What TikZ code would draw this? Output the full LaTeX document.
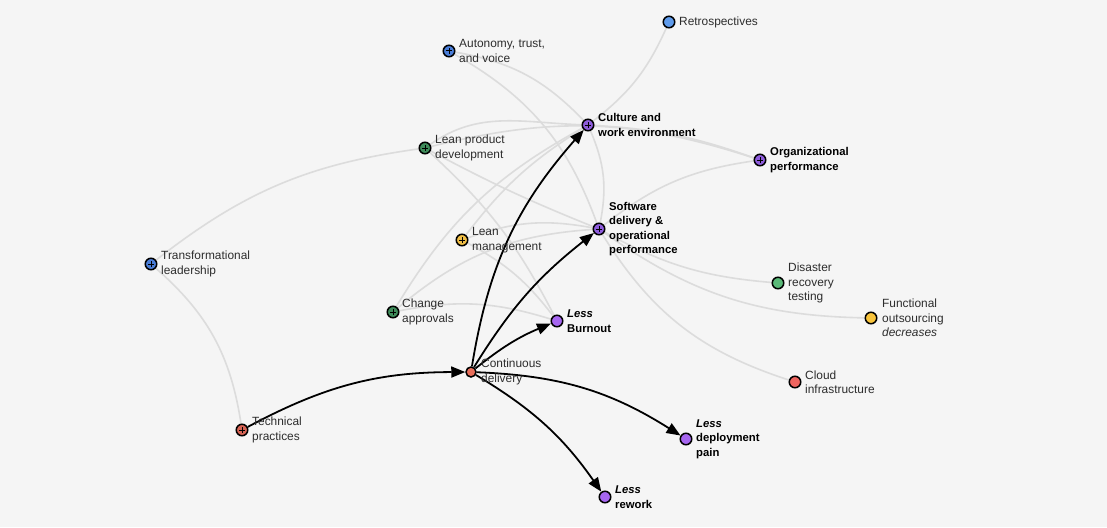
\documentclass[tikz,border=0pt]{standalone}
\usepackage{fontspec}
\setmainfont{Liberation Sans}
\usetikzlibrary{arrows.meta}
\pgfdeclarelayer{bg}
\pgfdeclarelayer{edges}
\pgfsetlayers{bg,edges,main}
\definecolor{bgc}{RGB}{245,245,245}
\definecolor{edgegray}{RGB}{220,220,220}
\definecolor{txt}{RGB}{45,45,45}
\definecolor{purA}{RGB}{142,92,220}
\definecolor{purB}{RGB}{166,102,240}
\definecolor{bluA}{RGB}{95,155,235}
\definecolor{bluB}{RGB}{74,125,215}
\definecolor{grnA}{RGB}{62,140,90}
\definecolor{grnB}{RGB}{90,185,120}
\definecolor{yelA}{RGB}{240,190,70}
\definecolor{yelB}{RGB}{248,196,60}
\definecolor{redA}{RGB}{232,110,90}
\definecolor{redB}{RGB}{238,100,95}
\definecolor{redC}{RGB}{215,100,85}
\tikzset{
  dot/.style={circle, draw=black, line width=1.5pt, minimum size=11.5pt, inner sep=0pt},
  withplus/.style={path picture={
    \draw[line width=1pt] ([xshift=-3.2pt]path picture bounding box.center) -- ([xshift=3.2pt]path picture bounding box.center)
      ([yshift=-3.2pt]path picture bounding box.center) -- ([yshift=3.2pt]path picture bounding box.center);}},
  lab/.style={anchor=west, inner sep=0pt, align=left, text=txt, font=\fontsize{11.9}{14.5}\selectfont},
  blab/.style={anchor=west, inner sep=0pt, align=left, text=black, font=\fontsize{11.3}{14.5}\selectfont\bfseries},
  gedge/.style={draw=edgegray, line width=1.6pt},
  bedge/.style={draw=black, line width=1.8pt, -{Triangle[length=14pt,width=11pt]}},
}
\begin{document}
\begin{tikzpicture}[x=1pt,y=1pt]
\begin{pgfonlayer}{bg}
\fill[bgc] (0,0) rectangle (1107,-527);
\end{pgfonlayer}
\useasboundingbox (0,0) rectangle (1107,-527);

% nodes
\node[dot, fill=bluA] (retro) at (669,-22) {};
\node[dot, fill=bluB, withplus] (aut) at (449,-51) {};
\node[dot, fill=purA, withplus] (cul) at (588,-125) {};
\node[dot, fill=grnA, withplus] (lpd) at (425,-148) {};
\node[dot, fill=purA, withplus] (org) at (760,-160) {};
\node[dot, fill=purA, withplus] (sdo) at (599,-229) {};
\node[dot, fill=yelA, withplus] (lm) at (462,-240) {};
\node[dot, fill=bluB, withplus] (tl) at (151,-264) {};
\node[dot, fill=grnB] (drt) at (778,-283) {};
\node[dot, fill=grnA, withplus] (ca) at (393,-312) {};
\node[dot, fill=yelB] (fo) at (871,-318) {};
\node[dot, fill=purB] (bur) at (557,-321) {};
\node[dot, fill=redA, minimum size=10pt] (cd) at (471,-372) {};
\node[dot, fill=redB] (cloud) at (795,-382) {};
\node[dot, fill=redC, withplus] (tp) at (242,-430) {};
\node[dot, fill=purB] (ldp) at (686,-439) {};
\node[dot, fill=purB] (rew) at (605,-497) {};

% labels
\node[lab] (retroL) at ([xshift=10pt]retro.center) {Retrospectives};
\node[lab] (autL) at ([xshift=10pt]aut.center) {Autonomy, trust,\\and voice};
\node[blab] (culL) at ([xshift=10pt]cul.center) {Culture and\\work environment};
\node[lab] (lpdL) at ([xshift=10pt]lpd.center) {Lean product\\development};
\node[blab] (orgL) at ([xshift=10pt]org.center) {Organizational\\performance};
\node[blab] (sdoL) at ([xshift=10pt]sdo.center) {Software\\delivery \&\\operational\\performance};
\node[lab] (lmL) at ([xshift=10pt]lm.center) {Lean\\management};
\node[lab] (tlL) at ([xshift=10pt]tl.center) {Transformational\\leadership};
\node[lab] (drtL) at ([xshift=10pt]drt.center) {Disaster\\recovery\\testing};
\node[lab] (caL) at ([xshift=9pt]ca.center) {Change\\approvals};
\node[lab] (foL) at ([xshift=11pt]fo.center) {Functional\\outsourcing\\\textit{decreases}};
\node[blab] (burL) at ([xshift=10pt]bur.center) {\textit{Less}\\Burnout};
\node[lab] (cdL) at ([xshift=10pt]cd.center) {Continuous\\delivery};
\node[lab] (cloudL) at ([xshift=10pt]cloud.center) {Cloud\\infrastructure};
\node[lab] (tpL) at ([xshift=10pt]tp.center) {Technical\\practices};
\node[blab] (ldpL) at ([xshift=10pt]ldp.center) {\textit{Less}\\deployment\\pain};
\node[blab] (rewL) at ([xshift=10pt]rew.center) {\textit{Less}\\rework};

\begin{pgfonlayer}{edges}
% gray edges
\draw[gedge] (retro) to[bend left=14] (cul);
\draw[gedge] (aut) to[bend left=18] (cul);
\draw[gedge] (aut) to[bend left=20] (sdo);
\draw[gedge] (lpd) to[out=35,in=178] (cul);
\draw[gedge] (lpd) to[bend left=16] (org);
\draw[gedge] (cul) to[bend left=8] (org);
\draw[gedge] (cul) to[bend left=17] (sdo);
\draw[gedge] (sdo) to[bend left=15] (org);
\draw[gedge] (sdo) to[bend right=12] (drt);
\draw[gedge] (sdo) to[bend right=17] (fo);
\draw[gedge] (sdo) to[bend right=20] (cloud);
\draw[gedge] (tl) to[bend left=15] (lpd);
\draw[gedge] (tl) to[bend left=20] (tp);
\draw[gedge] (lpd) to[bend right=3] (sdo);
\draw[gedge] (lpd) to[bend left=10] (bur);
\draw[gedge] (lm) to[bend left=10] (cul);
\draw[gedge] (lm) to[bend left=15] (sdo);
\draw[gedge] (lm) to[bend left=12] (bur);
\draw[gedge] (ca) to[bend left=15] (cul);
\draw[gedge] (ca) to[bend left=18] (sdo);
\draw[gedge] (ca) to[bend left=14] (bur);
% black edges
\draw[bedge] (tp) to[bend left=14] (cd);
\draw[bedge] (cd) to[bend left=16] (cul);
\draw[bedge] (cd) to[bend left=10] (sdo);
\draw[bedge] (cd) to[bend left=8] (bur);
\draw[bedge] (cd) to[bend left=15] (ldp);
\draw[bedge] (cd) to[bend left=12] (rew);
\end{pgfonlayer}
\end{tikzpicture}
\end{document}
